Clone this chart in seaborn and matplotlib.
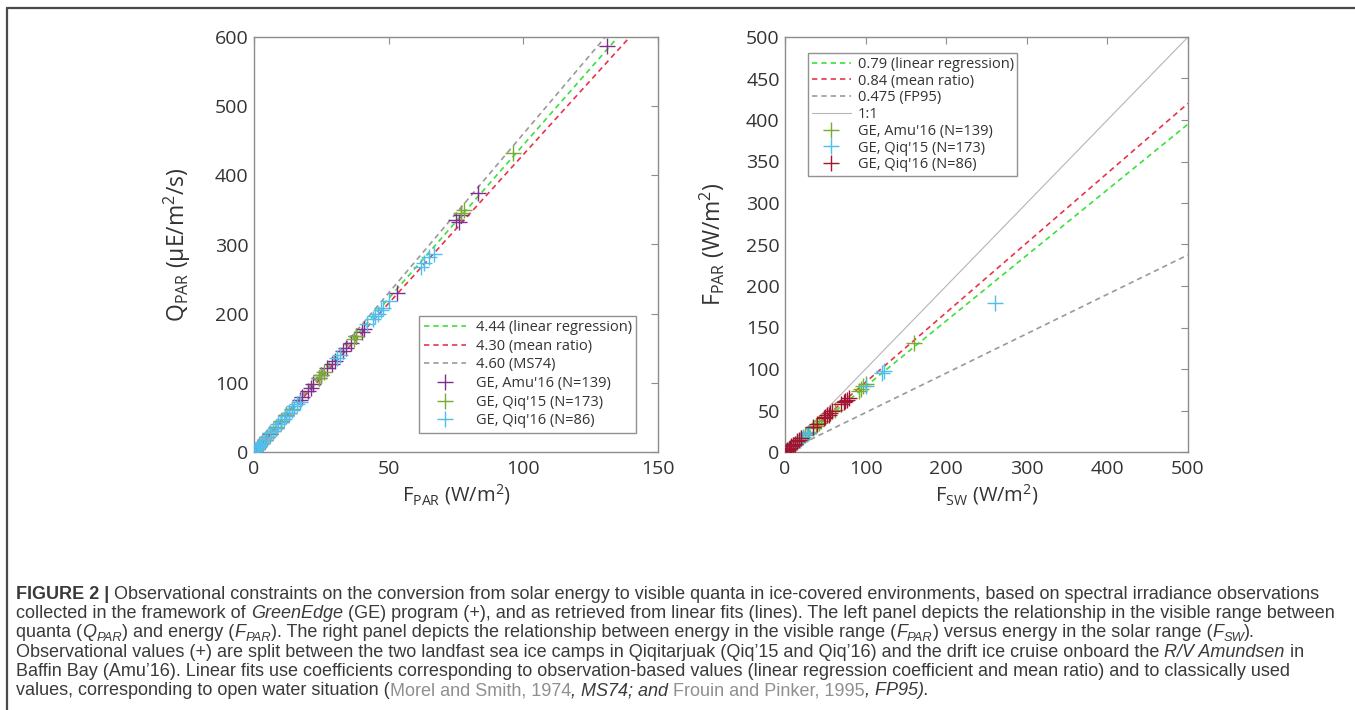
import numpy as np
import pandas as pd
import matplotlib
matplotlib.use("Agg")
import matplotlib.pyplot as plt
import seaborn as sns
from matplotlib.lines import Line2D
from matplotlib.font_manager import FontProperties, fontManager

# ---------------- data ----------------
# Left panel: Q_PAR vs F_PAR
amu16_fpar = [131, 83, 77, 75, 76, 53, 41, 40, 38, 36, 34, 33, 30, 29, 27, 25, 24, 22, 21, 20,
              18, 17, 13, 12, 10, 8, 6, 5, 4, 3, 2, 1.5, 1, 0.5]
amu16_qpar = [587, 375, 343, 336, 332, 230, 178, 173, 167, 157, 150, 146, 131, 127, 121, 111, 107, 98, 93, 88,
              80, 75, 57, 53, 44, 35, 26, 22, 17, 13, 9, 7, 4, 2]
qiq15_fpar = [96, 78, 77, 38, 37, 26, 25, 24, 14, 12, 10, 8, 7, 6, 5, 4, 3, 2, 1]
qiq15_qpar = [432, 350, 345, 167, 163, 115, 111, 107, 62, 54, 45, 36, 31, 27, 22, 18, 13, 9, 4]
qiq16_fpar = [67, 65, 63, 62, 50, 48, 47, 46, 45, 44, 42, 32, 31, 17, 16, 15, 14, 13, 12, 11,
              10, 9, 8, 7, 6, 5, 4, 3, 2.5, 2, 1.5, 1, 0.5, 0.2]
qiq16_qpar = [286, 282, 273, 268, 218, 208, 205, 200, 196, 192, 185, 140, 136, 73, 70, 66, 61, 57, 52, 48,
              44, 40, 35, 31, 27, 22, 18, 13, 11, 9, 7, 4, 2, 1]
left_coefs = [4.44, 4.30, 4.60]
left_line_labels = ["4.44 (linear regression)", "4.30 (mean ratio)", "4.60 (MS74)"]
left_point_labels = ["GE, Amu'16 (N=139)", "GE, Qiq'15 (N=173)", "GE, Qiq'16 (N=86)"]

# Right panel: F_PAR vs F_SW
r_amu16_fsw = [160, 100, 97, 94, 92, 62, 45, 42, 38, 35, 28, 25, 20, 15, 10, 5]
r_amu16_fpar = [131, 82, 79, 76, 74, 51, 37, 35, 31, 29, 23, 21, 17, 12, 8, 4]
r_qiq15_fsw = [260, 123, 120, 100, 30, 27, 22, 18, 12, 8, 4]
r_qiq15_fpar = [180, 97, 95, 80, 24, 22, 18, 15, 10, 6, 3]
r_qiq16_fsw = [80, 77, 75, 73, 70, 58, 56, 54, 52, 50, 48, 40, 35, 20, 17, 15, 12, 10, 8, 6, 5, 3, 2, 1]
r_qiq16_fpar = [65, 63, 62, 60, 58, 49, 47, 45, 44, 42, 41, 34, 30, 17, 14, 13, 10, 8.5, 7, 5, 4, 2.5, 1.7, 1]
right_coefs = [0.79, 0.84, 0.475, 1.0]
right_line_labels = ["0.79 (linear regression)", "0.84 (mean ratio)", "0.475 (FP95)", "1:1"]
right_point_labels = ["GE, Amu'16 (N=139)", "GE, Qiq'15 (N=173)", "GE, Qiq'16 (N=86)"]

# ---------------- style ----------------
sns.set_theme(style="white")
plt.rcParams["font.family"] = ["Open Sans", "DejaVu Sans"]
plt.rcParams["mathtext.default"] = "regular"

W, H = 1355, 710
fig = plt.figure(figsize=(W / 100, H / 100), dpi=100)
fig.patch.set_facecolor("white")

SPINE = "#8c8c8c"
TXT = "#333333"
PURPLE = "#7E2F8E"
OLIVE = "#77AC30"
CYAN = "#4DBEEE"
DRED = "#A2142F"
LGREEN = "#3be03b"
LRED = "#e8334a"
LGRAY = "#9a9a9a"
DASH = (0, (3.2, 2.4))
MS = 140          # scatter marker area
LEG_MS = 12       # legend marker size

ax1 = fig.add_axes([254 / W, 1 - 452 / H, 404 / W, 415 / H])
ax2 = fig.add_axes([785 / W, 1 - 452 / H, 403 / W, 415 / H])


def style_axes(ax):
    for s in ax.spines.values():
        s.set_color(SPINE)
        s.set_linewidth(1.0)
        s.set_visible(True)
    ax.tick_params(direction="in", top=True, right=True, length=5, width=0.8,
                   color=SPINE, labelsize=14, labelcolor=TXT)
    ax.tick_params(axis="x", pad=6)
    ax.tick_params(axis="y", pad=3.8)
    ax.set_facecolor("white")
    ax.grid(False)


# ---- left panel ----
xs_l = np.array([0, 150.0])
line_cols_l = [LGREEN, LRED, LGRAY]
for k, c in zip(left_coefs, line_cols_l):
    sns.lineplot(x=xs_l, y=k * xs_l, ax=ax1, color=c, linestyle=DASH, linewidth=1.2, zorder=2)
pt_cols_l = [PURPLE, OLIVE, CYAN]
for xv, yv, c in zip([amu16_fpar, qiq15_fpar, qiq16_fpar], [amu16_qpar, qiq15_qpar, qiq16_qpar], pt_cols_l):
    sns.scatterplot(x=xv, y=yv, ax=ax1, marker="+", s=MS, color=c, linewidth=1.0, legend=False, zorder=3)
ax1.set_xlim(0, 150)
ax1.set_ylim(0, 600)
ax1.set_xticks([0, 50, 100, 150])
ax1.set_yticks(range(0, 601, 100))
style_axes(ax1)
ax1.set_xlabel(r"F$_{PAR}$ (W/m$^{2}$)", fontsize=14.5, color=TXT)
ax1.set_ylabel(r"Q$_{PAR}$ (µE/m$^{2}$/s)", fontsize=16.5, color=TXT)
ax1.xaxis.set_label_coords(0.5, -(482 - 452) / 415)
ax1.yaxis.set_label_coords((193 - 254) / 404, 0.5)

h1 = [Line2D([], [], color=c, linestyle=DASH, linewidth=1.2) for c in line_cols_l] + \
     [Line2D([], [], color=c, marker="+", linestyle="none", markersize=LEG_MS, markeredgewidth=1.0) for c in pt_cols_l]
leg1 = ax1.legend(h1, left_line_labels + left_point_labels, loc="lower right",
                  bbox_to_anchor=(0.946, 0.046), fontsize=10.5, frameon=True, fancybox=False,
                  edgecolor="#777777", handlelength=2.9, labelspacing=0.25, borderpad=0.31,
                  handletextpad=0.65, borderaxespad=0)
leg1.get_frame().set_linewidth(1.0)
for t in leg1.get_texts():
    t.set_color(TXT)

# ---- right panel ----
xs_r = np.array([0, 500.0])
line_cols_r = [LGREEN, LRED, LGRAY, "#b5b5b5"]
line_styles_r = [DASH, DASH, DASH, "-"]
line_w_r = [1.2, 1.2, 1.2, 0.8]
for k, c, ls, lw in zip(right_coefs, line_cols_r, line_styles_r, line_w_r):
    sns.lineplot(x=xs_r, y=k * xs_r, ax=ax2, color=c, linestyle=ls, linewidth=lw, zorder=2)
pt_cols_r = [OLIVE, CYAN, DRED]
for xv, yv, c in zip([r_amu16_fsw, r_qiq15_fsw, r_qiq16_fsw], [r_amu16_fpar, r_qiq15_fpar, r_qiq16_fpar], pt_cols_r):
    sns.scatterplot(x=xv, y=yv, ax=ax2, marker="+", s=MS, color=c, linewidth=1.0, legend=False, zorder=3)
ax2.set_xlim(0, 500)
ax2.set_ylim(0, 500)
ax2.set_xticks(range(0, 501, 100))
ax2.set_yticks(range(0, 501, 50))
style_axes(ax2)
ax2.set_xlabel(r"F$_{SW}$ (W/m$^{2}$)", fontsize=14.5, color=TXT)
ax2.set_ylabel(r"F$_{PAR}$ (W/m$^{2}$)", fontsize=16.5, color=TXT)
ax2.xaxis.set_label_coords(0.5, -(482 - 452) / 415)
ax2.yaxis.set_label_coords((727 - 785) / 403, 0.5)

h2 = [Line2D([], [], color=c, linestyle=ls, linewidth=lw) for c, ls, lw in
      zip(line_cols_r, line_styles_r, line_w_r)] + \
     [Line2D([], [], color=c, marker="+", linestyle="none", markersize=LEG_MS, markeredgewidth=1.0) for c in pt_cols_r]
leg2 = ax2.legend(h2, right_line_labels + right_point_labels, loc="upper left",
                  bbox_to_anchor=(0.057, 0.961), fontsize=10.5, frameon=True, fancybox=False,
                  edgecolor="#777777", handlelength=2.7, labelspacing=0.12, borderpad=0.25,
                  handletextpad=0.45, borderaxespad=0)
leg2.get_frame().set_linewidth(1.0)
for t in leg2.get_texts():
    t.set_color(TXT)

# ---- figure border ----
fig.add_artist(Line2D([7 / W, 1.0], [1 - 8 / H, 1 - 8 / H], transform=fig.transFigure, color="#4a4a4a", lw=1.6))
fig.add_artist(Line2D([7 / W, 7 / W], [0, 1 - 8 / H], transform=fig.transFigure, color="#4a4a4a", lw=1.6))

# ---- caption ----
names = {f.name for f in fontManager.ttflist}
CAP_FAMILY = ["Liberation Sans Narrow"] if "Liberation Sans Narrow" in names else ["Liberation Sans"]
CAP_COL = "#3a3a3a"
CIT_COL = "#8f8f8f"

caption_lines = [
    [("FIGURE 2 | ", "b"), ("Observational constraints on the conversion from solar energy to visible quanta in ice-covered environments, based on spectral irradiance observations", "n")],
    [("collected in the framework of ", "n"), ("GreenEdge", "i"), (" (GE) program (+), and as retrieved from linear fits (lines). The left panel depicts the relationship in the visible range between", "n")],
    [("quanta (", "n"), ("Q", "i"), ("PAR", "s"), (") and energy (", "n"), ("F", "i"), ("PAR", "s"),
     ("). The right panel depicts the relationship between energy in the visible range (", "n"), ("F", "i"), ("PAR", "s"),
     (") versus energy in the solar range (", "n"), ("F", "i"), ("SW", "s"), (").", "n")],
    [("Observational values (+) are split between the two landfast sea ice camps in Qiqitarjuak (Qiq\u201915 and Qiq\u201916) and the drift ice cruise onboard the ", "n"), ("R/V Amundsen", "i"), (" in", "n")],
    [("Baffin Bay (Amu\u201916). Linear fits use coefficients corresponding to observation-based values (linear regression coefficient and mean ratio) and to classically used", "n")],
    [("values, corresponding to open water situation (", "n"), ("Morel and Smith, 1974", "g"), (", MS74; and ", "i"), ("Frouin and Pinker, 1995", "g"), (", FP95).", "i")],
]

fig.canvas.draw()
renderer = fig.canvas.get_renderer()


def fprops(kind, size):
    if kind == "b":
        return FontProperties(family=CAP_FAMILY, size=size, weight="bold")
    if kind in ("i",):
        return FontProperties(family=CAP_FAMILY, size=size, style="italic")
    if kind == "s":
        return FontProperties(family=CAP_FAMILY, size=size * 0.72, style="italic")
    return FontProperties(family=CAP_FAMILY, size=size)


def seg_w(txt, fp):
    t1 = fig.text(0, 0, txt + "|", fontproperties=fp)
    t2 = fig.text(0, 0, "|", fontproperties=fp)
    w = t1.get_window_extent(renderer).width - t2.get_window_extent(renderer).width
    t1.remove()
    t2.remove()
    return w


def line_w(line, size):
    return sum(seg_w(s, fprops(k, size)) for s, k in line)


base = 10.0
fs = base * (1327.0 / line_w(caption_lines[1], base))

x_start = 16
for i, line in enumerate(caption_lines):
    yb = 599 + 19.2 * i
    x = x_start
    for s, k in line:
        fp = fprops(k, fs)
        col = CIT_COL if k == "g" else CAP_COL
        dy = 3.5 if k == "s" else 0
        fig.text(x / W, 1 - (yb + dy) / H, s, fontproperties=fp, color=col, va="baseline", ha="left")
        x += seg_w(s, fp)

fig.savefig("out.png", dpi=100, facecolor="white")
